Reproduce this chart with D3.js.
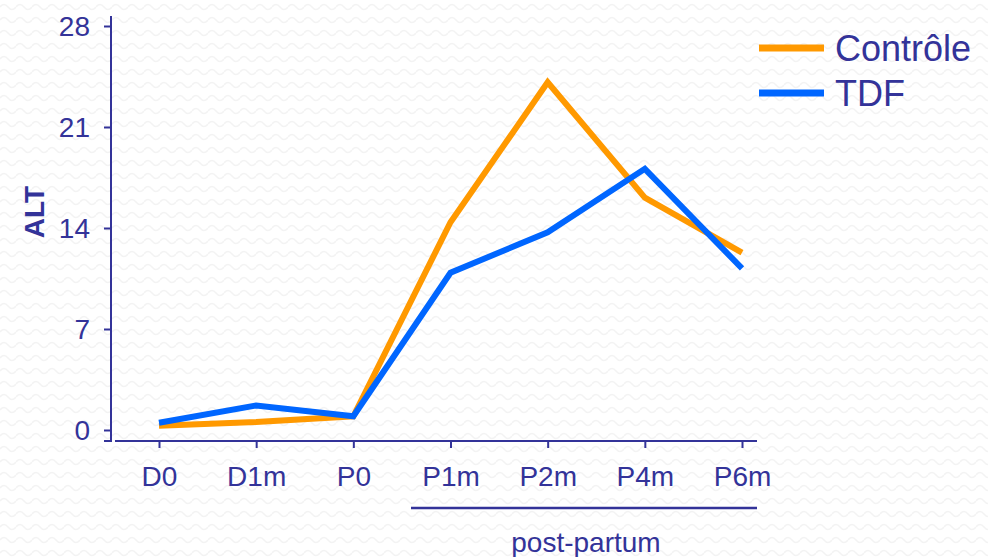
<!DOCTYPE html>
<html lang="fr">
<head>
  <meta charset="utf-8">
  <title>ALT</title>
  <script src="https://d3js.org/d3.v7.min.js"></script>
  <style>
    html, body { margin: 0; padding: 0; background: #fff; }
    svg { display: block; font-family: "Liberation Sans", Arial, sans-serif; }
    .axis path, .axis line { stroke: #333399; stroke-width: 2; }
    .axis text { fill: #333399; font-size: 28px; font-family: "Liberation Sans", Arial, sans-serif; }
  </style>
</head>
<body>
  <svg id="chart" width="988" height="557"></svg>
  <script>
    // values
    const categories = ['D0', 'D1m', 'P0', 'P1m', 'P2m', 'P4m', 'P6m'];
    const controle = [0.3, 0.55, 0.95, 14.4, 24.1, 16.1, 12.3];
    const tdf = [0.5, 1.7, 0.95, 10.9, 13.7, 18.1, 11.2];
    const yTicks = [0, 7, 14, 21, 28];

    const series = [
      { name: 'Contrôle', values: controle, color: '#ff9900' },
      { name: 'TDF', values: tdf, color: '#0066ff' }
    ];
    const ink = '#333399';

    const svg = d3.select('#chart');

    // faint wavy background texture
    const pat = svg.append('defs').append('pattern')
      .attr('id', 'wave').attr('patternUnits', 'userSpaceOnUse')
      .attr('width', 16).attr('height', 13);
    pat.append('path')
      .attr('d', 'M0,7 Q4,2 8,7 T16,7')
      .attr('fill', 'none').attr('stroke', '#f3f3f3').attr('stroke-width', 1.5);
    svg.append('rect').attr('width', 988).attr('height', 557).attr('fill', 'url(#wave)');

    const x = d3.scalePoint().domain(categories).range([159, 742]);
    const y = d3.scaleLinear().domain([0, 28]).range([430, 26]);

    // y axis
    const yAxis = svg.append('g').attr('class', 'axis')
      .attr('transform', 'translate(111,0)')
      .call(d3.axisLeft(y).tickValues(yTicks).tickSize(7).tickPadding(14).tickSizeOuter(0));
    yAxis.select('.domain').attr('d', 'M0,16V441H-7');
    yAxis.selectAll('text').attr('dy', '0.35em');

    // x axis
    const xAxis = svg.append('g').attr('class', 'axis')
      .attr('transform', 'translate(0,441)')
      .call(d3.axisBottom(x).tickSize(7).tickPadding(18).tickSizeOuter(0));
    xAxis.select('.domain').attr('d', 'M115,0H757');

    // post-partum bracket
    svg.append('line')
      .attr('x1', 411).attr('x2', 757).attr('y1', 508).attr('y2', 508)
      .attr('stroke', ink).attr('stroke-width', 2.5);
    svg.append('text')
      .attr('x', 586).attr('y', 552).attr('text-anchor', 'middle')
      .attr('fill', ink).style('font-size', '28px')
      .text('post-partum');

    // y label
    svg.append('text')
      .attr('transform', 'translate(44,212) rotate(-90)')
      .attr('text-anchor', 'middle')
      .attr('fill', ink).style('font-size', '28px').style('font-weight', 'bold')
      .text('ALT');

    const line = d3.line()
      .x((d, i) => x(categories[i]))
      .y(d => y(d));

    svg.selectAll('path.series')
      .data(series)
      .enter().append('path')
        .attr('class', 'series')
        .attr('d', d => line(d.values))
        .attr('fill', 'none')
        .attr('stroke', d => d.color)
        .attr('stroke-width', 6)
        .attr('stroke-linejoin', 'miter');

    // legend
    const legend = svg.append('g').attr('transform', 'translate(759,48)');
    const item = legend.selectAll('g')
      .data(series)
      .enter().append('g')
        .attr('transform', (d, i) => `translate(0,${i * 45})`);
    item.append('line')
      .attr('x1', 0).attr('x2', 65)
      .attr('stroke', d => d.color).attr('stroke-width', 7);
    item.append('text')
      .attr('x', 76).attr('dy', '0.35em')
      .attr('fill', ink).style('font-size', '36px')
      .text(d => d.name);
  </script>
</body>
</html>
